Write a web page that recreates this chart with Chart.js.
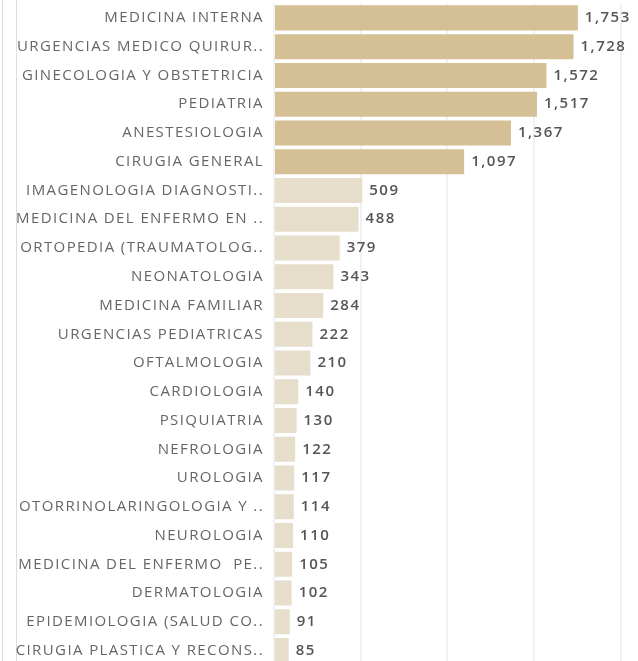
<!DOCTYPE html>
<html>
<head>
<meta charset="utf-8">
<script src="https://cdn.jsdelivr.net/npm/chart.js@4.4.1/dist/chart.umd.min.js"></script>
<style>
  html, body { margin: 0; padding: 0; background: #fff; overflow: hidden; }
  #wrap { width: 638px; height: 661px; position: relative; overflow: hidden; }
</style>
</head>
<body>
<div id="wrap"><canvas id="myChart" width="638" height="665"></canvas></div>
<script>
// especialidades, ordenadas de mayor a menor
var specialties = [
  "MEDICINA INTERNA",
  "URGENCIAS MEDICO QUIRUR..",
  "GINECOLOGIA Y OBSTETRICIA",
  "PEDIATRIA",
  "ANESTESIOLOGIA",
  "CIRUGIA GENERAL",
  "IMAGENOLOGIA DIAGNOSTI..",
  "MEDICINA DEL ENFERMO EN ..",
  "ORTOPEDIA (TRAUMATOLOG..",
  "NEONATOLOGIA",
  "MEDICINA FAMILIAR",
  "URGENCIAS PEDIATRICAS",
  "OFTALMOLOGIA",
  "CARDIOLOGIA",
  "PSIQUIATRIA",
  "NEFROLOGIA",
  "UROLOGIA",
  "OTORRINOLARINGOLOGIA Y ..",
  "NEUROLOGIA",
  "MEDICINA DEL ENFERMO  PE..",
  "DERMATOLOGIA",
  "EPIDEMIOLOGIA (SALUD CO..",
  "CIRUGIA PLASTICA Y RECONS.."
];

var counts = [1753, 1728, 1572, 1517, 1367, 1097, 509, 488, 379, 343, 284,
  222, 210, 140, 130, 122, 117, 114, 110, 105, 102, 91, 85];

// gridlines every 500
var gridTicks = [0, 500, 1000, 1500, 2000];

var darkColor = "#d5c095";
var lightColor = "#e7ddcb";

// numbers with comma separator, like 1,753
function fmt(v) {
  return v.toString().replace(/\B(?=(\d{3})+(?!\d))/g, ",");
}

// wider text, like the original
var spacing = {
  id: "spacing",
  beforeDraw: function(chart) {
    chart.ctx.letterSpacing = "1.4px";
  }
};

// draws the value at the end of each bar
var valueLabels = {
  id: "valueLabels",
  afterDatasetsDraw: function(chart) {
    var ctx = chart.ctx;
    var meta = chart.getDatasetMeta(0);
    ctx.save();
    ctx.letterSpacing = "1.5px";
    ctx.font = "600 15px 'Open Sans'";
    ctx.fillStyle = "#555555";
    ctx.textAlign = "left";
    ctx.textBaseline = "middle";
    meta.data.forEach(function(bar, i) {
      ctx.fillText(fmt(counts[i]), bar.x + 7, bar.y);
    });
    ctx.restore();
  }
};

// thin lines on the left side of the view
var leftLines = {
  id: "leftLines",
  beforeDraw: function(chart) {
    var ctx = chart.ctx;
    ctx.save();
    ctx.strokeStyle = "#dddddd";
    ctx.lineWidth = 1;
    [2.5, 16.5].forEach(function(x) {
      ctx.beginPath();
      ctx.moveTo(x, 0);
      ctx.lineTo(x, chart.height);
      ctx.stroke();
    });
    ctx.restore();
  }
};

window.onload = function() {
  var ctx = document.getElementById("myChart").getContext("2d");
  var chart = new Chart(ctx, {
    type: "bar",
    data: {
      labels: specialties,
      datasets: [
        {
          label: "Total",
          data: counts,
          backgroundColor: function(c) {
            return c.raw > 1000 ? darkColor : lightColor;
          },
          borderWidth: 0,
          categoryPercentage: 1.0,
          barPercentage: 0.87
        }
      ]
    },
    options: {
      indexAxis: "y",
      responsive: false,
      animation: false,
      layout: { padding: { top: 3.5, right: 0, bottom: 0, left: 0 } },
      plugins: {
        legend: { display: false },
        tooltip: { enabled: false }
      },
      scales: {
        x: {
          min: 0,
          max: 2100,
          afterBuildTicks: function(axis) {
            axis.ticks = gridTicks.map(function(v) { return { value: v }; });
          },
          afterFit: function(axis) { axis.height = 0; },
          ticks: { display: false },
          grid: { color: "#f1f1f1", drawTicks: false, lineWidth: 2 },
          border: { display: false }
        },
        y: {
          afterFit: function(axis) {
            axis.width = 274;
            axis.paddingTop = 0;
            axis.paddingBottom = 0;
          },
          ticks: {
            color: "#666666",
            padding: 2,
            font: { family: "'Open Sans'", size: 15 },
            autoSkip: false
          },
          grid: { display: false },
          border: { display: false }
        }
      }
    },
    plugins: [leftLines, spacing, valueLabels]
  });
};
</script>
</body>
</html>
